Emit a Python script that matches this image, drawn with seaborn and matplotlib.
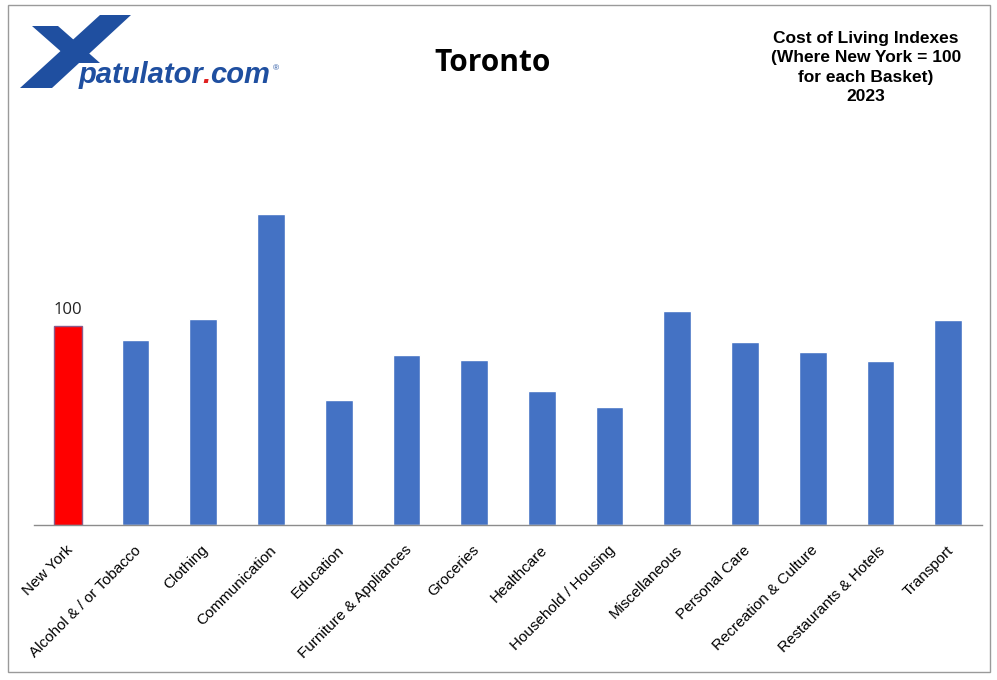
import matplotlib
matplotlib.use("Agg")
import matplotlib.pyplot as plt
import matplotlib.transforms as mtransforms
from matplotlib.patches import Polygon, Rectangle
import seaborn as sns

categories = ["New York", "Alcohol & / or Tobacco", "Clothing", "Communication",
              "Education", "Furniture & Appliances", "Groceries", "Healthcare",
              "Household / Housing", "Miscellaneous", "Personal Care",
              "Recreation & Culture", "Restaurants & Hotels", "Transport"]
values = [100, 93, 103.5, 156, 62.7, 85.3, 83, 67.5, 59.5, 107.5, 92, 87, 82.4, 103]
bar_colors = ["#ff0000"] + ["#4472c4"] * 13

sns.set_style("white")
plt.rcParams["font.family"] = ["Liberation Sans", "DejaVu Sans"]
plt.rcParams["text.color"] = "black"

fig = plt.figure(figsize=(9.97, 6.8), dpi=100)
ax = fig.add_axes([34 / 997, 155 / 680, 948 / 997, 337 / 680])

sns.barplot(x=categories, y=values, hue=categories, palette=bar_colors,
            legend=False, width=0.41, saturation=1, ax=ax)
ax.patches[0].set_edgecolor("#8a5a8a")
ax.patches[0].set_linewidth(1)

ax.set_xlim(-0.5, 13.5)
ax.set_ylim(0, 169.3)
ax.set_yticks([])
for s in ["top", "right", "left"]:
    ax.spines[s].set_visible(False)
ax.spines["bottom"].set_color("#8c8c8c")
ax.spines["bottom"].set_linewidth(1)

ax.set_xticks(range(len(categories)))
ax.set_xticks([i - 0.5 for i in range(len(categories) + 1)], minor=True)
ax.tick_params(axis="x", which="major", length=0, pad=13, labelcolor="black")
ax.tick_params(axis="x", which="minor", length=5, color="#8c8c8c", width=1, direction="out")
ax.set_xticklabels(categories, rotation=45, ha="right", rotation_mode="anchor", fontsize=11)
offset = mtransforms.ScaledTranslation(-2 / 100, 0, fig.dpi_scale_trans)
for lbl in ax.get_xticklabels():
    lbl.set_transform(lbl.get_transform() + offset)

ax.text(0, values[0] + 4, "100", ha="center", va="bottom", fontsize=12,
        family=["Open Sans", "DejaVu Sans"], color="#222222")

# titles
fig.text(493 / 997, 1 - 63 / 680, "Toronto", ha="center", va="center",
         fontsize=21.5, fontweight="bold", family=["Open Sans", "DejaVu Sans"], color="black")
fig.text(866 / 997, 1 - 67.5 / 680,
         "Cost of Living Indexes\n(Where New York = 100\nfor each Basket)\n2023",
         ha="center", va="center", fontsize=12.5, fontweight="bold", linespacing=1.35,
         color="black")

# logo
blue = "#1f4fa0"
fig.patches.append(Polygon([(100, 15), (131, 15), (52, 88), (20, 88)], closed=True,
                           transform=None, facecolor=blue, edgecolor="none"))
fig.patches.append(Polygon([(32, 26), (58, 26), (100, 63), (74, 63)], closed=True,
                           transform=None, facecolor=blue, edgecolor="none"))
for p in fig.patches[-2:]:
    xy = p.get_xy()
    xy[:, 1] = 680 - xy[:, 1]
    p.set_xy(xy)

renderer = fig.canvas.get_renderer()
x0 = 79
for part, col in [("patulator", blue), (".", "#e02020"), ("com", blue)]:
    t = fig.text(x0 / 997, 1 - 83 / 680, part, color=col, fontsize=21,
                 fontweight="bold", fontstyle="italic", va="baseline")
    x0 = t.get_window_extent(renderer).x1 - 1
fig.text((x0 + 4) / 997, 1 - 70 / 680, "®", color=blue, fontsize=6, va="baseline")

fig.patches.append(Rectangle((8 / 997, 8 / 680), 982 / 997, 667 / 680, transform=fig.transFigure,
                             fill=False, edgecolor="#9a9a9a", linewidth=1))

fig.savefig("out.png", dpi=100)
